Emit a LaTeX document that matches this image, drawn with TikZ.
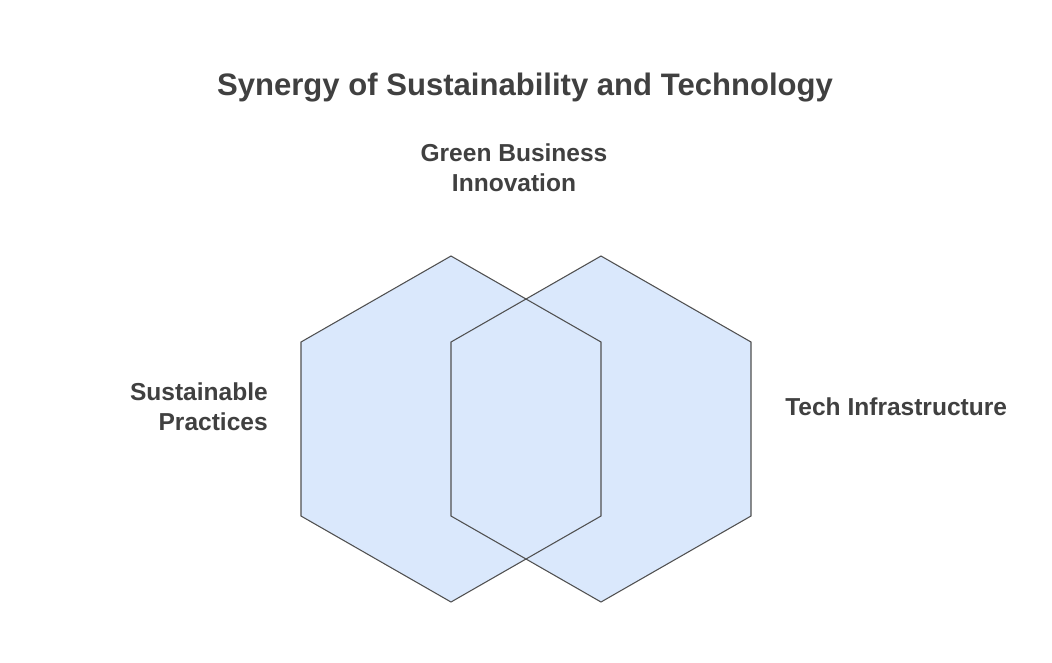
\documentclass[tikz,border=0pt]{standalone}
\usepackage{fontspec}
\setmainfont{Liberation Sans}
\begin{document}
\begin{tikzpicture}[x=0.75pt,y=-0.75pt,
  hexfill/.style={fill=hexblue,draw=none},
  hexline/.style={draw=hexgray,line width=0.8pt,line join=miter},
  lbl/.style={text=txtgray,font=\bfseries\fontsize{18.4}{22.5}\selectfont,inner sep=0pt},
  ttl/.style={text=txtgray,font=\bfseries\fontsize{23.3}{27}\selectfont,inner sep=0pt}]
\definecolor{hexblue}{HTML}{DAE8FC}
\definecolor{hexgray}{HTML}{505050}
\definecolor{txtgray}{HTML}{404040}
\useasboundingbox (0,0) rectangle (1052,662);
\fill[white] (0,0) rectangle (1052,662);
% left hexagon
\path[hexfill] (451,256) -- (601,342) -- (601,516) -- (451,602) -- (301,516) -- (301,342) -- cycle;
% right hexagon
\path[hexfill] (601,256) -- (751,342) -- (751,516) -- (601,602) -- (451,516) -- (451,342) -- cycle;
\draw[hexline] (451,256) -- (601,342) -- (601,516) -- (451,602) -- (301,516) -- (301,342) -- cycle;
\draw[hexline] (601,256) -- (751,342) -- (751,516) -- (601,602) -- (451,516) -- (451,342) -- cycle;
\node[ttl] (title) at (525,88) {Synergy of Sustainability and Technology};
\node[lbl,align=center] (green) at (514,168) {Green Business\\Innovation};
\node[lbl,align=right,anchor=east] (sust) at (268,407) {Sustainable\\Practices};
\node[lbl,anchor=west] (tech) at (785,407) {Tech Infrastructure};
\end{tikzpicture}
\end{document}
